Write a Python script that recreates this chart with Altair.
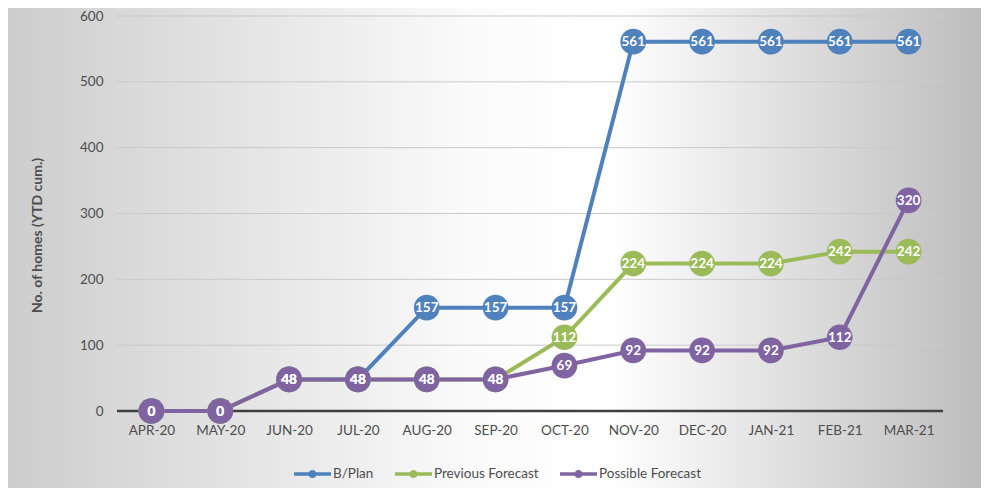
import altair as alt
import pandas as pd

months = ["APR-20", "MAY-20", "JUN-20", "JUL-20", "AUG-20", "SEP-20",
          "OCT-20", "NOV-20", "DEC-20", "JAN-21", "FEB-21", "MAR-21"]
series_names = ["B/Plan", "Previous Forecast", "Possible Forecast"]
series_colors = ["#4f81bd", "#9bbb59", "#8064a2"]
b_plan = [0, 0, 48, 48, 157, 157, 157, 561, 561, 561, 561, 561]
previous_forecast = [0, 0, 48, 48, 48, 48, 112, 224, 224, 224, 242, 242]
possible_forecast = [0, 0, 48, 48, 48, 48, 69, 92, 92, 92, 112, 320]
y_ticks = [0, 100, 200, 300, 400, 500, 600]
grid_ticks = [100, 200, 300, 400, 500, 600]

rows = []
for name, vals in zip(series_names, [b_plan, previous_forecast, possible_forecast]):
    for i, (m, v) in enumerate(zip(months, vals)):
        rows.append({"month": m, "value": v, "series": name, "idx": i})
df = pd.DataFrame(rows)
grid_df = pd.DataFrame({"value": grid_ticks})
zero_df = pd.DataFrame({"value": [0]})

W, H = 826, 395
PAD_L, PAD_T = 109, 8
PAD_R = 973 - PAD_L - W
PAD_B = 480 - PAD_T - H
FONT = "Lato"
TXT = "#4d4d4d"

x_enc = alt.X("month:N", sort=months, scale=alt.Scale(domain=months),
              axis=alt.Axis(title=None, labelAngle=0, ticks=False, domain=False, grid=False,
                            labelPadding=12, labelFontSize=13.5, labelColor=TXT,
                            labelFont=FONT, zindex=1))
y_enc = alt.Y("value:Q", scale=alt.Scale(domain=[0, 600], nice=False),
              axis=alt.Axis(values=y_ticks, title="No. of homes (YTD cum.)", grid=False,
                            domain=False, ticks=False, labelPadding=14, labelFontSize=13.5,
                            labelColor=TXT, labelFont=FONT, titleFont=FONT,
                            titleFontSize=14, titleFontWeight="bold", titleColor=TXT,
                            titleX=-80, titleY=219, titleAngle=270, titleAlign="center",
                            titleBaseline="middle", zindex=1))

bg = alt.Chart(alt.Data(values=[{"a": 1}])).mark_rect(
    fill=alt.Gradient(gradient="linear", x1=0, y1=0, x2=1, y2=0,
                      stops=[alt.GradientStop(offset=0, color="#cdcdcd"),
                             alt.GradientStop(offset=0.48, color="#fbfbfb"),
                             alt.GradientStop(offset=0.62, color="#ffffff"),
                             alt.GradientStop(offset=1, color="#bdbdbd")])
).encode(x=alt.value(-PAD_L), x2=alt.value(W + PAD_R), y=alt.value(-PAD_T), y2=alt.value(H + PAD_B))

grid = alt.Chart(grid_df).mark_rule(color="#c9c9c9", strokeWidth=1).encode(y=y_enc)
zero = alt.Chart(zero_df).mark_rule(color="#404040", strokeWidth=2.5).encode(y=y_enc)

layers = [bg, grid, zero]
for name, c in zip(series_names, series_colors):
    layers.append(
        alt.Chart(df).transform_filter(alt.datum.series == name)
        .mark_line(color=c, strokeWidth=4)
        .encode(x=x_enc, y=y_enc, order="idx:Q")
    )

legend = alt.Legend(title=None, orient="none", direction="horizontal", legendX=177,
                    legendY=439.5,
                    symbolType="M-1,-0.1 H1 V0.1 H-1 Z M-0.22,0 A0.22,0.22 0 1,1 0.22,0 A0.22,0.22 0 1,1 -0.22,0 Z",
                    symbolSize=1369, symbolStrokeWidth=0, symbolOpacity=1,
                    labelFont=FONT, labelFontSize=13.5, labelColor=TXT, labelOffset=2,
                    columnPadding=21, padding=0)

points = alt.Chart(df).mark_point(filled=True, size=660, opacity=1).encode(
    x=x_enc, y=y_enc,
    color=alt.Color("series:N", scale=alt.Scale(domain=series_names, range=series_colors),
                    sort=series_names, legend=legend)
)
labels = alt.Chart(df).mark_text(color="white", font=FONT, fontWeight="bold", fontSize=13.5,
                                 align="center", baseline="middle", dy=0.5).encode(
    x=x_enc, y=y_enc, text="value:Q")
layers += [points, labels]

chart = alt.layer(*layers).properties(
    width=W, height=H,
    autosize=alt.AutoSizeParams(type="none"),
    padding={"left": PAD_L, "top": PAD_T, "right": PAD_R, "bottom": PAD_B},
).configure_view(stroke=None)

chart.save("out.html", embed_options={"renderer": "svg", "actions": False})
